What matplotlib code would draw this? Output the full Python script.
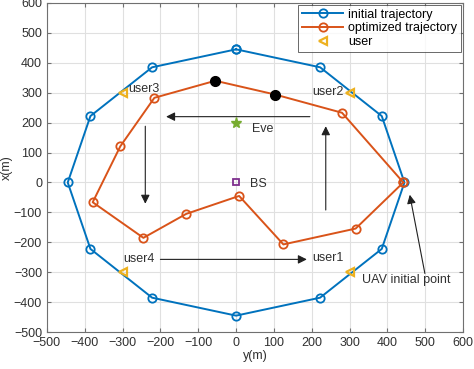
import matplotlib.pyplot as plt
import numpy as np

plt.rcParams['font.family'] = ['Liberation Sans', 'DejaVu Sans']

# initial trajectory: (y, x) points in metres
init_y = [0, 222, 385, 445, 385, 222, 0, -222, -385, -445, -385, -222, 0]
init_x = [445, 385, 222, 0, -222, -385, -445, -385, -222, 0, 222, 385, 445]

# optimized trajectory
opt_y = [442, 280, 103, -55, -216, -306, -379, -245, -132, 8, 125, 316, 442]
opt_x = [0, 233, 294, 340, 283, 121, -66, -185, -105, -45, -207, -154, 0]

# highlighted points on the optimized trajectory
dot_y = [103, -55]
dot_x = [294, 340]

user_y = [300, 300, -300, -300]
user_x = [-300, 300, 300, -300]
user_names = ["user1", "user2", "user3", "user4"]

eve = (0, 200)
bs = (0, 0)

blue = '#0072BD'
orange = '#D95319'
yellow = '#EDB120'
purple = '#7E2F8E'
green = '#77AC30'
txt = '#303030'
fs = 9

fig = plt.figure(figsize=(4.74, 3.69), dpi=100)
ax = fig.add_axes([0.099, 0.100, 0.878, 0.892])

ax.plot(init_y, init_x, '-o', color=blue, lw=1.4, ms=6, mfc='none', mew=1.3,
        label='initial trajectory', zorder=3)
ax.plot(opt_y, opt_x, '-o', color=orange, lw=1.4, ms=6, mfc='none', mew=1.3,
        label='optimized trajectory', zorder=3)
ax.plot(dot_y, dot_x, 'o', color='k', ms=7, zorder=4)
ax.plot(user_x, user_y, '<', color=yellow, ms=6, mfc='none', mew=1.6,
        ls='none', label='user', zorder=5)
ax.plot(eve[0], eve[1], '*', color=green, ms=8, zorder=5)
ax.plot(bs[0], bs[1], 's', color=purple, ms=4.5, mfc='none', mew=1.3, zorder=5)

# labels
ax.text(-284, 313, user_names[2], fontsize=fs, color=txt, va='center')
ax.text(283, 303, user_names[1], fontsize=fs, color=txt, va='center', ha='right')
ax.text(-297, -256, user_names[3], fontsize=fs, color=txt, va='center')
ax.text(201, -252, user_names[0], fontsize=fs, color=txt, va='center')
ax.text(41, 179, 'Eve', fontsize=fs, color=txt, va='center')
ax.text(37, -4, 'BS', fontsize=fs, color=txt, va='center')
ax.text(332, -326, 'UAV initial point', fontsize=fs, color=txt, va='center')

# direction arrows
arrows = [((195, 220), (-185, 220)),
          ((-240, 188), (-240, -71)),
          ((-200, -257), (187, -257)),
          ((237, -92), (237, 188)),
          ((499, -304), (459, -41))]
for (y0, x0), (y1, x1) in arrows:
    ax.annotate('', xy=(y1, x1), xytext=(y0, x0),
                arrowprops=dict(arrowstyle='-|>', color='#202020', lw=0.8,
                                mutation_scale=13, shrinkA=0, shrinkB=0))

ax.set_xlim(-500, 600)
ax.set_ylim(-500, 600)
ax.set_xticks(np.arange(-500, 601, 100))
ax.set_yticks(np.arange(-500, 601, 100))
ax.set_xlabel('y(m)', fontsize=fs, color=txt, labelpad=1)
ax.set_ylabel('x(m)', fontsize=fs, color=txt, labelpad=1)
ax.tick_params(direction='in', top=True, right=True, labelsize=fs,
               colors='#707070', labelcolor=txt, length=3)
for s in ax.spines.values():
    s.set_color('#707070')
    s.set_linewidth(0.8)
ax.grid(True, color='#e0e0e0', lw=0.8)
ax.set_axisbelow(True)

leg = ax.legend(loc='upper right', fontsize=fs, frameon=True, fancybox=False,
                edgecolor='#262626', borderpad=0.3, labelspacing=0.15,
                handlelength=3.3, handletextpad=0.4, borderaxespad=0.15)
leg.get_frame().set_linewidth(0.6)

fig.savefig('out.png', dpi=100)
